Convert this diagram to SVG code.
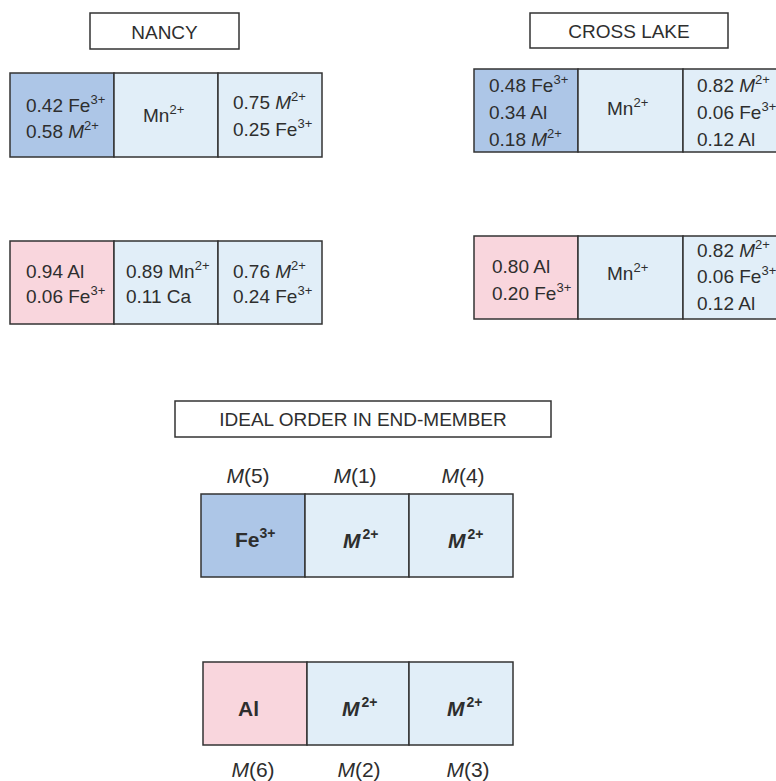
<svg xmlns="http://www.w3.org/2000/svg" width="776" height="781" viewBox="0 0 776 781">
<style>
text{font-family:"Liberation Sans",Arial,sans-serif;fill:#2e2e2e;font-size:19px}
.t{font-size:19px}
.c{text-anchor:middle}
.s{font-size:13px}
.i{font-style:italic}
.b{font-weight:bold;font-size:21px}
.b .s{font-size:14px}
.m{font-size:21px}
.lab{fill:#ffffff;stroke:#333;stroke-width:1.5}
.dk{fill:#adc6e7;stroke:#333;stroke-width:1.5}
.lt{fill:#e1eef8;stroke:#333;stroke-width:1.5}
.pk{fill:#f9d6dd;stroke:#333;stroke-width:1.5}
</style>
<rect width="776" height="781" fill="#ffffff"/>

<g id="nancy-title">
<rect class="lab" x="90" y="13" width="149" height="36"/>
<text class="c t" x="164.5" y="39">NANCY</text>
</g>

<g id="nancy-top">
<rect class="dk" x="10" y="73" width="104" height="84"/>
<rect class="lt" x="114" y="73" width="104" height="84"/>
<rect class="lt" x="218" y="73" width="104" height="84"/>
<text x="26" y="112">0.42 Fe<tspan class="s" dy="-8">3+</tspan></text>
<text x="26" y="138">0.58 <tspan class="i">M</tspan><tspan class="s" dy="-8">2+</tspan></text>
<text x="143" y="122">Mn<tspan class="s" dy="-8">2+</tspan></text>
<text x="233" y="109">0.75 <tspan class="i">M</tspan><tspan class="s" dy="-8">2+</tspan></text>
<text x="233" y="136">0.25 Fe<tspan class="s" dy="-8">3+</tspan></text>
</g>

<g id="nancy-bottom">
<rect class="pk" x="10" y="241" width="104" height="83"/>
<rect class="lt" x="114" y="241" width="104" height="83"/>
<rect class="lt" x="218" y="241" width="104" height="83"/>
<text x="26" y="278">0.94 Al</text>
<text x="26" y="303">0.06 Fe<tspan class="s" dy="-8">3+</tspan></text>
<text x="126" y="278">0.89 Mn<tspan class="s" dy="-8">2+</tspan></text>
<text x="126" y="303">0.11 Ca</text>
<text x="233" y="278">0.76 <tspan class="i">M</tspan><tspan class="s" dy="-8">2+</tspan></text>
<text x="233" y="303">0.24 Fe<tspan class="s" dy="-8">3+</tspan></text>
</g>

<g id="crosslake-title">
<rect class="lab" x="530" y="13" width="198" height="35"/>
<text class="c t" x="629" y="38">CROSS LAKE</text>
</g>

<g id="crosslake-top">
<rect class="dk" x="474" y="69" width="104" height="83"/>
<rect class="lt" x="578" y="69" width="105" height="83"/>
<rect class="lt" x="683" y="69" width="110" height="83"/>
<text x="489" y="92">0.48 Fe<tspan class="s" dy="-8">3+</tspan></text>
<text x="489" y="119">0.34 Al</text>
<text x="489" y="146">0.18 <tspan class="i">M</tspan><tspan class="s" dy="-8">2+</tspan></text>
<text x="607" y="115">Mn<tspan class="s" dy="-8">2+</tspan></text>
<text x="697" y="92">0.82 <tspan class="i">M</tspan><tspan class="s" dy="-8">2+</tspan></text>
<text x="697" y="119">0.06 Fe<tspan class="s" dy="-8">3+</tspan></text>
<text x="697" y="146">0.12 Al</text>
</g>

<g id="crosslake-bottom">
<rect class="pk" x="474" y="236" width="104" height="83"/>
<rect class="lt" x="578" y="236" width="105" height="83"/>
<rect class="lt" x="683" y="236" width="110" height="83"/>
<text x="492" y="273">0.80 Al</text>
<text x="492" y="300">0.20 Fe<tspan class="s" dy="-8">3+</tspan></text>
<text x="607" y="280">Mn<tspan class="s" dy="-8">2+</tspan></text>
<text x="697" y="257">0.82 <tspan class="i">M</tspan><tspan class="s" dy="-8">2+</tspan></text>
<text x="697" y="283">0.06 Fe<tspan class="s" dy="-8">3+</tspan></text>
<text x="697" y="310">0.12 Al</text>
</g>

<g id="ideal-title">
<rect class="lab" x="175" y="401" width="376" height="36"/>
<text class="c t" x="363" y="426">IDEAL ORDER IN END-MEMBER</text>
</g>

<g id="ideal-top">
<text class="c m" x="248" y="483"><tspan class="i">M</tspan>(5)</text>
<text class="c m" x="355" y="483"><tspan class="i">M</tspan>(1)</text>
<text class="c m" x="463" y="483"><tspan class="i">M</tspan>(4)</text>
<rect class="dk" x="201" y="494" width="104" height="83"/>
<rect class="lt" x="305" y="494" width="104" height="83"/>
<rect class="lt" x="409" y="494" width="104" height="83"/>
<text class="b" x="235" y="547">Fe<tspan class="s" dy="-9">3+</tspan></text>
<text class="b" x="343" y="548"><tspan class="i">M</tspan><tspan class="s" dx="2" dy="-9">2+</tspan></text>
<text class="b" x="448" y="548"><tspan class="i">M</tspan><tspan class="s" dx="2" dy="-9">2+</tspan></text>
</g>

<g id="ideal-bottom">
<rect class="pk" x="203" y="662" width="104" height="83"/>
<rect class="lt" x="307" y="662" width="102" height="83"/>
<rect class="lt" x="409" y="662" width="104" height="83"/>
<text class="b" x="238" y="716">Al</text>
<text class="b" x="342" y="716"><tspan class="i">M</tspan><tspan class="s" dx="2" dy="-9">2+</tspan></text>
<text class="b" x="447" y="716"><tspan class="i">M</tspan><tspan class="s" dx="2" dy="-9">2+</tspan></text>
<text class="c m" x="253" y="777"><tspan class="i">M</tspan>(6)</text>
<text class="c m" x="359" y="777"><tspan class="i">M</tspan>(2)</text>
<text class="c m" x="468" y="777"><tspan class="i">M</tspan>(3)</text>
</g>
</svg>
